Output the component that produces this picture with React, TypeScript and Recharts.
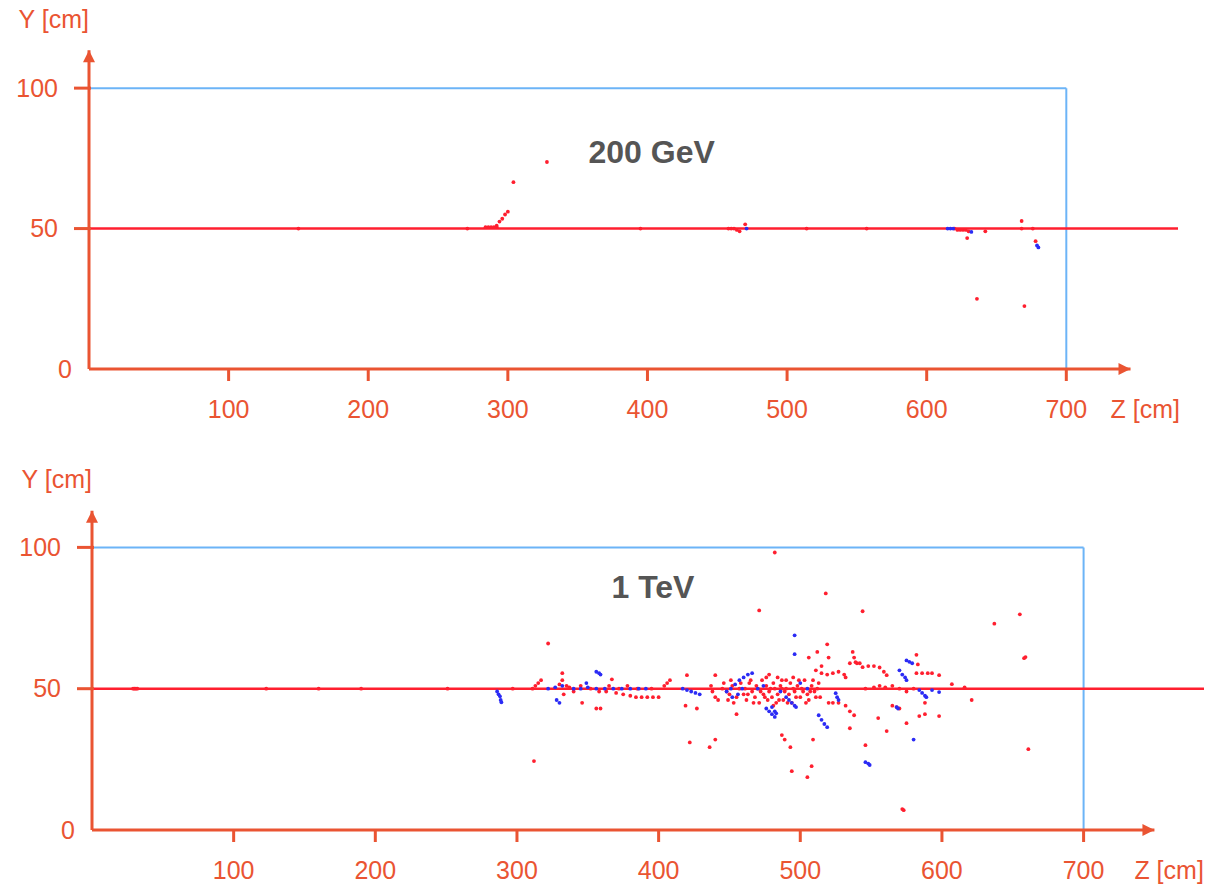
import { ScatterChart, Scatter, XAxis, YAxis, ReferenceLine, ReferenceDot } from 'recharts';

// hit positions [Z cm, Y cm]
const redHits200: number[][] = [
	[150, 50], [271, 50], [395, 50], [514, 50], [557, 50], [676, 50],
	[284, 50.5], [286, 50.5], [288, 50.5], [290, 50.5], [292, 50.5],
	[292, 51], [294, 52.5], [296, 53.5], [298, 55], [300, 56],
	[304, 66.5], [328, 73.7],
	[458, 50], [460, 50], [462, 50], [464, 49.5], [466, 49], [470, 51.5],
	[620, 50], [622, 49.5], [624, 49.5], [626, 49.5], [628, 49.5], [630, 49], [629, 46.6],
	[642, 49], [668, 52.7], [668, 50], [678, 45.5], [636, 25], [670, 22.4],
];
const blueHits200: number[][] = [
	[471, 50], [615, 50], [617, 50], [619, 50], [632, 48.8], [679, 44], [680, 43.3],
];

const redHits1TeV: number[][] = [
	[29, 50], [30, 50], [31, 50], [32, 50], [123, 50], [160, 50], [190, 50], [251, 50], [297, 50],
	[311, 50], [313, 51], [315, 52], [317, 53], [322, 66], [312, 24.4],
	[330, 51.5], [332, 53], [333, 48], [332, 55.5], [335, 51], [337, 50.5],
	[340, 49], [345, 51], [352, 50], [358, 49], [365, 51], [372, 50], [378, 51], [385, 50], [395, 50],
	[346, 45], [356, 43], [359, 43],
	[363, 49], [367, 53.3], [370, 48.5], [375, 48], [380, 47.5], [384, 47], [388, 47], [392, 47], [396, 47], [400, 47],
	[404, 51], [406, 52], [408, 53],
	[420, 54.8], [422, 31], [419, 44], [427, 43], [436, 29.3], [440, 32], [440, 54.8],
	[437, 51], [438, 49], [440, 47], [442, 46],
	[445, 50], [448, 49], [450, 48], [452, 51], [455, 47], [455, 41], [457, 50], [460, 48], [462, 46],
	[464, 52], [466, 49], [468, 47], [470, 50], [471, 45], [473, 53], [474, 48], [476, 51], [477, 46],
	[478, 49], [480, 47], [481, 52], [482, 50], [483, 45], [484, 48], [486, 51], [487, 53], [488, 46],
	[489, 49], [490, 50], [492, 48], [493, 52], [494, 45], [496, 49], [498, 51], [500, 47], [501, 50],
	[503, 53], [505, 48], [506, 46], [508, 51], [510, 49], [512, 50], [514, 47],
	[446, 52], [449, 46], [451, 53], [453, 45], [458, 52], [461, 50], [463, 48], [465, 53], [467, 45],
	[469, 51], [472, 49], [475, 47], [476, 54], [479, 50], [481, 44], [485, 46], [487, 50], [490, 53],
	[491, 45], [495, 50], [497, 47], [499, 53], [502, 49], [504, 45], [507, 49], [509, 53], [511, 47],
	[513, 52], [478, 55], [484, 54], [495, 54],
	[482, 98.2], [471, 77.7], [518, 83.7], [544, 77.4], [637, 73], [655, 76.3], [658, 60.8], [659, 61.2],
	[661, 28.6], [572, 7.4], [573, 7],
	[506, 61], [512, 63], [519, 65.7], [520, 61], [537, 63], [538, 61], [539, 59.4], [515, 58],
	[535, 59], [540, 59], [542, 59],
	[511, 56.5], [515, 55.5], [519, 55], [523, 55.5], [527, 56], [531, 55], [532, 54],
	[544, 57.6], [548, 58], [552, 58], [556, 57.5], [559, 56], [561, 54.8],
	[582, 62], [583, 58.6], [582, 55.5], [586, 55.5], [590, 55.5], [593, 55.5], [598, 54.8],
	[607, 51.6], [616, 50.5], [621, 46],
	[520, 45], [523, 45], [527, 45], [532, 44], [535, 42], [538, 40.6],
	[546, 30], [508, 22.6], [494, 20.8], [505, 18.7], [487, 33.6], [489, 32], [493, 29.3], [509, 32],
	[535, 36], [561, 35], [555, 39.6], [575, 37.8], [584, 40.3], [588, 41], [588, 45], [598, 40.3],
	[565, 44], [568, 43.5], [570, 43],
	[546, 50], [552, 50.5], [556, 51], [560, 50.5], [565, 51], [570, 50], [575, 49], [580, 50],
];
const blueHits1TeV: number[][] = [
	[286, 49], [287, 48], [288, 47.3], [288.5, 46], [289, 45.2],
	[328, 46], [330, 45], [349, 52], [356, 56], [358, 55.5], [359, 55],
	[340, 50], [345, 50], [350, 50.5], [356, 50], [362, 50], [368, 50], [374, 50], [380, 50], [386, 50], [391, 50],
	[322, 50], [327, 50.5], [332, 51],
	[417, 50], [420, 49.5], [423, 49], [426, 48.5], [429, 48],
	[448, 49], [451, 50], [454, 51.5], [457, 53], [460, 54], [463, 55], [466, 55.5],
	[452, 47], [456, 48], [459, 50],
	[476, 43], [478, 42], [480, 41], [482, 40], [480, 43.5], [482, 42], [483, 41.3],
	[492, 46], [494, 45], [496, 44], [497, 43.5],
	[513, 40.6], [515, 39], [517, 37.5], [519, 36.4],
	[525, 48.4], [526, 47], [527, 46],
	[496, 68.9], [496, 62.2], [546, 24], [548, 23.5], [549, 23],
	[575, 60], [577, 59.5], [579, 59], [570, 56.5], [572, 55], [574, 54], [575, 53],
	[568, 43.5], [569, 43],
	[584, 49.5], [586, 48.5], [588, 47.5], [589, 47],
	[593, 49.5], [598, 48.8], [580, 32],
	[470, 50], [474, 51], [486, 49], [490, 47], [500, 52], [505, 50],
];

const zTicks = [100, 200, 300, 400, 500, 600, 700];
const yTicks = [0, 50, 100];

const AXIS = '#ea5432';
const BOX = '#6cb4f7';
const RED = '#ff1f2f';
const BLUE = '#2b2bf5';
const FONT = '"Liberation Sans", Arial, sans-serif';

const toPts = (arr: number[][]) => arr.map(([z, y]) => ({ z, y }));

const hitDot = (color: string) => (p: any) => (
	<circle cx={p.cx} cy={p.cy} r={1.9} fill={color} />
);

const ZTick = (p: any) => (
	<g>
		<line x1={p.x} x2={p.x} y1={p.y} y2={p.y + 12} stroke={AXIS} strokeWidth={3} />
		<text x={p.x} y={p.y + 40} dy="0.35em" textAnchor="middle" fill={AXIS} fontSize={25} fontFamily={FONT}>
			{p.payload.value}
		</text>
	</g>
);

const YTick = (p: any) => {
	const v = p.payload.value;
	return (
		<g>
			{v !== 0 && <line x1={p.x - 15} x2={p.x + 2} y1={p.y} y2={p.y} stroke={AXIS} strokeWidth={3} />}
			<text x={v === 0 ? p.x - 17 : p.x - 31} y={p.y} dy="0.35em" textAnchor="end" fill={AXIS} fontSize={25} fontFamily={FONT}>
				{v}
			</text>
		</g>
	);
};

type PanelProps = {
	title: string;
	red: number[][];
	blue: number[][];
	zMax: number;
	zArrow: number;
	yArrow: number;
	titleAt: { z: number; y: number };
	height: number;
	margin: { top: number; right: number; bottom: number; left: number };
};

function Panel({ title, red, blue, zMax, zArrow, yArrow, titleAt, height, margin }: PanelProps) {
	return (
		<ScatterChart width={1214} height={height} margin={margin}>
			<XAxis
				type="number"
				dataKey="z"
				domain={[0, zMax]}
				ticks={zTicks}
				axisLine={false}
				tickLine={false}
				tickSize={0}
				tickMargin={0}
				height={50}
				tick={<ZTick />}
			/>
			<YAxis
				type="number"
				dataKey="y"
				domain={[0, 115]}
				ticks={yTicks}
				axisLine={false}
				tickLine={false}
				tickSize={0}
				tickMargin={0}
				width={60}
				tick={<YTick />}
			/>
			{/* detector box */}
			<ReferenceLine segment={[{ x: 0, y: 100 }, { x: 700, y: 100 }]} stroke={BOX} strokeWidth={2} />
			<ReferenceLine segment={[{ x: 700, y: 100 }, { x: 700, y: 0 }]} stroke={BOX} strokeWidth={2} />
			{/* beam line */}
			<ReferenceLine y={50} stroke={RED} strokeWidth={2.4} />
			<Scatter data={toPts(red)} fill={RED} shape={hitDot(RED)} isAnimationActive={false} />
			<Scatter data={toPts(blue)} fill={BLUE} shape={hitDot(BLUE)} isAnimationActive={false} />
			{/* axes with arrows */}
			<ReferenceLine segment={[{ x: 0, y: 0 }, { x: zArrow, y: 0 }]} stroke={AXIS} strokeWidth={3} />
			<ReferenceLine segment={[{ x: 0, y: 0 }, { x: 0, y: yArrow }]} stroke={AXIS} strokeWidth={3} />
			<ReferenceDot
				x={zArrow}
				y={0}
				r={0}
				shape={(p: any) => (
					<g>
						<path d={`M${p.cx},${p.cy} L${p.cx - 12},${p.cy - 6} L${p.cx - 12},${p.cy + 6} Z`} fill={AXIS} />
						<text x={p.cx - 20} y={p.cy + 40} dy="0.35em" fill={AXIS} fontSize={25} fontFamily={FONT}>
							Z [cm]
						</text>
					</g>
				)}
			/>
			<ReferenceDot
				x={0}
				y={yArrow}
				r={0}
				shape={(p: any) => (
					<g>
						<path d={`M${p.cx},${p.cy} L${p.cx - 6},${p.cy + 12} L${p.cx + 6},${p.cy + 12} Z`} fill={AXIS} />
						<text x={p.cx} y={p.cy - 31} dy="0.35em" textAnchor="end" fill={AXIS} fontSize={25} fontFamily={FONT}>
							Y [cm]
						</text>
					</g>
				)}
			/>
			<ReferenceDot
				x={titleAt.z}
				y={titleAt.y}
				r={0}
				shape={(p: any) => (
					<text x={p.cx} y={p.cy} dy="0.35em" textAnchor="middle" fill="#555" fontSize={32} fontWeight="bold" fontFamily={FONT}>
						{title}
					</text>
				)}
			/>
		</ScatterChart>
	);
}

export default function App() {
	return (
		<div style={{ position: 'relative', left: -8, top: -8, width: 1214, height: 886, background: '#fff' }}>
			<Panel
				title="200 GeV"
				red={redHits200}
				blue={blueHits200}
				zMax={780}
				zArrow={746}
				yArrow={113.5}
				titleAt={{ z: 403, y: 77.3 }}
				height={440}
				margin={{ top: 46, right: 36, bottom: 21, left: 29 }}
			/>
			<Panel
				title="1 TeV"
				red={redHits1TeV}
				blue={blueHits1TeV}
				zMax={785}
				zArrow={750}
				yArrow={113}
				titleAt={{ z: 396, y: 86.2 }}
				height={446}
				margin={{ top: 65, right: 10, bottom: 6, left: 32 }}
			/>
		</div>
	);
}
